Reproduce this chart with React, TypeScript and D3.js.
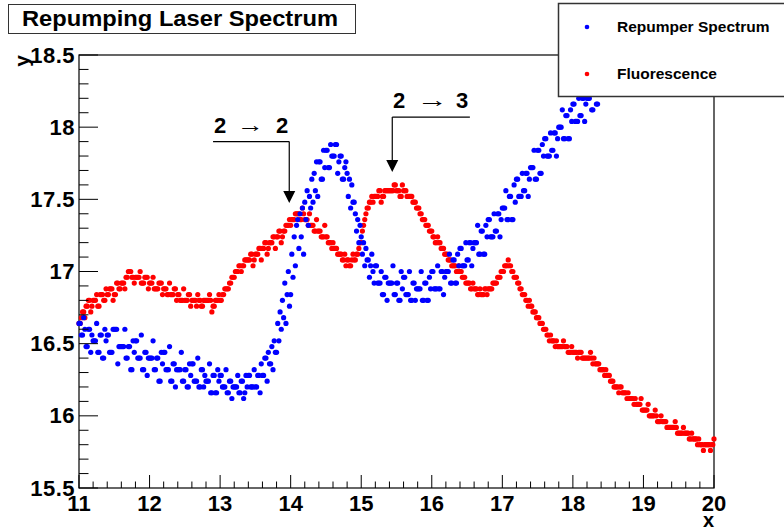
import React from "react";
import * as d3 from "d3";

// ---- data (sampled on a regular x grid starting at 11, 60 samples per unit) ----
const xStart = 11;
const samplesPerUnit = 60;

const repumperY: number[] = [
  16.64, 16.64, 16.56, 16.56, 16.68, 16.60,
  16.48, 16.48, 16.60, 16.60, 16.44, 16.56,
  16.52, 16.52, 16.52, 16.64, 16.44, 16.44,
  16.56, 16.56, 16.40, 16.40, 16.60, 16.52,
  16.56, 16.56, 16.44, 16.44, 16.44, 16.60,
  16.60, 16.60, 16.60, 16.36, 16.48, 16.48,
  16.48, 16.48, 16.48, 16.60, 16.40, 16.40,
  16.48, 16.48, 16.32, 16.32, 16.52, 16.44,
  16.52, 16.52, 16.40, 16.40, 16.40, 16.56,
  16.32, 16.32, 16.44, 16.44, 16.28, 16.40,
  16.40, 16.40, 16.40, 16.52, 16.32, 16.32,
  16.40, 16.40, 16.24, 16.24, 16.44, 16.36,
  16.44, 16.44, 16.32, 16.32, 16.32, 16.48,
  16.24, 16.24, 16.36, 16.36, 16.20, 16.32,
  16.32, 16.32, 16.32, 16.44, 16.24, 16.24,
  16.32, 16.32, 16.20, 16.20, 16.36, 16.28,
  16.36, 16.36, 16.24, 16.24, 16.24, 16.40,
  16.20, 16.20, 16.32, 16.32, 16.20, 16.28,
  16.24, 16.24, 16.24, 16.36, 16.16, 16.16,
  16.28, 16.28, 16.16, 16.16, 16.32, 16.24,
  16.28, 16.28, 16.20, 16.20, 16.20, 16.32,
  16.16, 16.16, 16.24, 16.24, 16.12, 16.20,
  16.20, 16.20, 16.20, 16.28, 16.16, 16.16,
  16.24, 16.24, 16.12, 16.16, 16.28, 16.20,
  16.28, 16.28, 16.20, 16.20, 16.20, 16.32,
  16.20, 16.20, 16.28, 16.28, 16.16, 16.36,
  16.28, 16.28, 16.40, 16.40, 16.24, 16.44,
  16.36, 16.36, 16.48, 16.32, 16.52, 16.44,
  16.44, 16.64, 16.52, 16.72, 16.60, 16.80,
  16.68, 16.92, 16.64, 16.84, 17.00, 16.76,
  16.84, 17.12, 16.96, 17.24, 17.04, 17.32,
  17.36, 17.16, 17.40, 17.24, 17.44, 17.12,
  17.48, 17.36, 17.56, 17.32, 17.52, 17.44,
  17.64, 17.48, 17.68, 17.56, 17.76, 17.52,
  17.76, 17.76, 17.64, 17.64, 17.84, 17.72,
  17.84, 17.84, 17.72, 17.72, 17.88, 17.80,
  17.80, 17.80, 17.88, 17.88, 17.68, 17.76,
  17.80, 17.80, 17.64, 17.64, 17.72, 17.76,
  17.68, 17.52, 17.64, 17.44, 17.60, 17.48,
  17.48, 17.40, 17.28, 17.36, 17.20, 17.32,
  17.24, 17.12, 17.20, 17.04, 17.16, 17.08,
  17.08, 16.96, 17.04, 17.12, 17.00, 16.92,
  17.04, 17.04, 16.92, 16.92, 16.92, 17.00,
  16.84, 16.84, 16.96, 16.96, 16.80, 16.92,
  16.92, 16.92, 16.92, 17.04, 16.84, 16.84,
  16.92, 16.92, 16.80, 16.80, 17.00, 16.88,
  16.96, 16.96, 16.84, 16.84, 16.84, 17.00,
  16.80, 16.80, 16.92, 16.92, 16.80, 16.88,
  16.88, 16.88, 16.88, 17.00, 16.80, 16.80,
  16.92, 16.92, 16.80, 16.80, 16.96, 16.88,
  17.00, 17.00, 16.88, 16.88, 16.88, 17.04,
  16.88, 16.88, 17.00, 17.00, 16.84, 16.96,
  17.00, 17.00, 17.00, 17.12, 16.92, 16.92,
  17.08, 17.08, 16.92, 16.92, 17.12, 17.04,
  17.16, 17.16, 17.04, 17.04, 17.04, 17.20,
  17.08, 17.08, 17.20, 17.20, 17.04, 17.16,
  17.20, 17.20, 17.20, 17.32, 17.12, 17.12,
  17.28, 17.28, 17.12, 17.12, 17.32, 17.24,
  17.36, 17.36, 17.24, 17.24, 17.24, 17.40,
  17.28, 17.28, 17.40, 17.40, 17.24, 17.36,
  17.44, 17.44, 17.44, 17.56, 17.36, 17.36,
  17.52, 17.52, 17.36, 17.36, 17.60, 17.48,
  17.64, 17.64, 17.52, 17.52, 17.52, 17.68,
  17.56, 17.56, 17.68, 17.68, 17.52, 17.64,
  17.72, 17.72, 17.72, 17.84, 17.64, 17.64,
  17.84, 17.84, 17.68, 17.68, 17.88, 17.80,
  17.92, 17.92, 17.80, 17.80, 17.80, 17.96,
  17.84, 17.84, 17.96, 17.96, 17.80, 17.92,
  18.00, 18.00, 18.00, 18.12, 17.92, 17.92,
  18.08, 18.08, 17.92, 17.92, 18.12, 18.04,
  18.16, 18.16, 18.04, 18.04, 18.04, 18.20,
  18.08, 18.08, 18.20, 18.20, 18.04, 18.16,
  18.20, 18.20, 18.20, 18.32, 18.12, 18.12,
  18.28, 18.28, 18.16, 18.16, 18.36, 18.24,
  18.40, 18.40, 18.28, 18.28, 18.28, 18.44,
  18.32, 18.32, 18.44, 18.44, 18.28, 18.40,
  18.44,
];

const fluorescenceY: number[] = [
  16.64, 16.64, 16.68, 16.72, 16.72, 16.68,
  16.76, 16.76, 16.80, 16.80, 16.72, 16.76,
  16.80, 16.80, 16.80, 16.84, 16.76, 16.76,
  16.84, 16.84, 16.84, 16.80, 16.80, 16.88,
  16.84, 16.84, 16.88, 16.88, 16.88, 16.80,
  16.84, 16.84, 16.92, 16.92, 16.88, 16.88,
  16.92, 16.92, 16.92, 16.88, 16.96, 16.96,
  17.00, 17.00, 17.00, 16.96, 16.96, 16.92,
  16.96, 16.96, 16.96, 16.96, 17.00, 16.92,
  16.92, 16.92, 16.96, 16.96, 16.96, 16.88,
  16.92, 16.92, 16.92, 16.96, 16.88, 16.88,
  16.88, 16.88, 16.92, 16.92, 16.92, 16.84,
  16.88, 16.88, 16.88, 16.84, 16.84, 16.92,
  16.84, 16.84, 16.84, 16.88, 16.88, 16.80,
  16.84, 16.84, 16.80, 16.80, 16.80, 16.88,
  16.80, 16.80, 16.80, 16.84, 16.84, 16.76,
  16.80, 16.80, 16.80, 16.80, 16.76, 16.84,
  16.80, 16.80, 16.76, 16.76, 16.80, 16.80,
  16.80, 16.80, 16.80, 16.84, 16.80, 16.72,
  16.76, 16.76, 16.80, 16.80, 16.80, 16.84,
  16.80, 16.80, 16.84, 16.84, 16.88, 16.88,
  16.88, 16.88, 16.92, 16.92, 16.96, 16.96,
  16.96, 17.00, 17.00, 17.00, 17.04, 17.04,
  17.00, 17.04, 17.04, 17.08, 17.08, 17.08,
  17.08, 17.08, 17.12, 17.12, 17.04, 17.08,
  17.12, 17.12, 17.12, 17.16, 17.16, 17.08,
  17.16, 17.16, 17.20, 17.20, 17.12, 17.16,
  17.20, 17.20, 17.20, 17.24, 17.24, 17.16,
  17.24, 17.24, 17.28, 17.28, 17.20, 17.24,
  17.28, 17.28, 17.32, 17.32, 17.32, 17.36,
  17.32, 17.36, 17.36, 17.36, 17.40, 17.40,
  17.40, 17.40, 17.36, 17.36, 17.44, 17.40,
  17.36, 17.36, 17.36, 17.32, 17.40, 17.32,
  17.32, 17.32, 17.28, 17.28, 17.36, 17.28,
  17.28, 17.28, 17.24, 17.24, 17.24, 17.32,
  17.24, 17.24, 17.20, 17.20, 17.20, 17.16,
  17.20, 17.16, 17.16, 17.16, 17.12, 17.12,
  17.12, 17.12, 17.08, 17.08, 17.12, 17.04,
  17.08, 17.08, 17.04, 17.04, 17.08, 17.12,
  17.08, 17.08, 17.12, 17.12, 17.16, 17.20,
  17.20, 17.28, 17.32, 17.36, 17.40, 17.44,
  17.44, 17.48, 17.48, 17.52, 17.48, 17.52,
  17.52, 17.52, 17.52, 17.56, 17.56, 17.48,
  17.52, 17.52, 17.56, 17.56, 17.56, 17.56,
  17.56, 17.56, 17.56, 17.56, 17.60, 17.60,
  17.56, 17.56, 17.56, 17.52, 17.52, 17.60,
  17.56, 17.56, 17.56, 17.52, 17.52, 17.52,
  17.52, 17.52, 17.48, 17.48, 17.48, 17.44,
  17.44, 17.44, 17.40, 17.40, 17.36, 17.36,
  17.36, 17.32, 17.32, 17.32, 17.28, 17.28,
  17.28, 17.24, 17.24, 17.20, 17.20, 17.24,
  17.20, 17.20, 17.16, 17.16, 17.16, 17.12,
  17.12, 17.12, 17.08, 17.08, 17.08, 17.04,
  17.04, 17.04, 17.04, 17.00, 17.00, 17.04,
  17.00, 17.00, 16.96, 16.96, 16.96, 16.92,
  16.92, 16.92, 16.92, 16.88, 16.88, 16.92,
  16.88, 16.88, 16.88, 16.84, 16.84, 16.88,
  16.84, 16.84, 16.84, 16.88, 16.88, 16.84,
  16.88, 16.88, 16.88, 16.88, 16.92, 16.92,
  16.92, 16.92, 16.96, 16.96, 16.96, 17.00,
  17.00, 17.00, 17.04, 17.04, 17.04, 17.08,
  17.04, 17.04, 17.00, 17.00, 16.96, 16.96,
  16.96, 16.92, 16.92, 16.88, 16.88, 16.84,
  16.84, 16.84, 16.80, 16.80, 16.76, 16.80,
  16.76, 16.76, 16.72, 16.72, 16.72, 16.68,
  16.68, 16.68, 16.64, 16.64, 16.64, 16.60,
  16.60, 16.60, 16.56, 16.56, 16.52, 16.56,
  16.52, 16.52, 16.52, 16.48, 16.52, 16.48,
  16.48, 16.48, 16.48, 16.48, 16.52, 16.48,
  16.48, 16.48, 16.44, 16.44, 16.44, 16.48,
  16.44, 16.44, 16.44, 16.44, 16.40, 16.44,
  16.44, 16.44, 16.40, 16.40, 16.40, 16.40,
  16.40, 16.40, 16.40, 16.44, 16.40, 16.36,
  16.40, 16.36, 16.36, 16.36, 16.36, 16.32,
  16.32, 16.32, 16.32, 16.28, 16.32, 16.28,
  16.28, 16.28, 16.24, 16.24, 16.24, 16.20,
  16.20, 16.20, 16.20, 16.16, 16.20, 16.20,
  16.16, 16.16, 16.16, 16.16, 16.12, 16.16,
  16.12, 16.12, 16.12, 16.12, 16.08, 16.12,
  16.08, 16.08, 16.08, 16.08, 16.12, 16.04,
  16.04, 16.04, 16.04, 16.04, 16.08, 16.00,
  16.00, 16.00, 16.00, 16.00, 16.04, 16.00,
  15.96, 15.96, 15.96, 16.00, 15.96, 15.96,
  15.96, 15.96, 15.92, 15.92, 15.92, 15.92,
  15.92, 15.92, 15.92, 15.96, 15.92, 15.88,
  15.88, 15.88, 15.88, 15.88, 15.92, 15.88,
  15.88, 15.88, 15.88, 15.84, 15.84, 15.88,
  15.84, 15.84, 15.84, 15.84, 15.80, 15.84,
  15.80, 15.80, 15.80, 15.76, 15.80, 15.80,
  15.80, 15.80, 15.80, 15.76, 15.80, 15.80,
  15.84,
];

const xTicks = [11, 12, 13, 14, 15, 16, 17, 18, 19, 20];
const yTicks = [15.5, 16, 16.5, 17, 17.5, 18, 18.5];
const yTickLabels = ["15.5", "16", "16.5", "17", "17.5", "18", "18.5"];

const seriesNames = ["Repumper Spectrum", "Fluorescence"];
const seriesColors = ["#0000ff", "#ff0000"];

// annotation texts: [left level, arrow, right level]
const annotationTexts = [
  ["2", "→", "2"],
  ["2", "→", "3"],
];

const W = 784;
const H = 531;
const M = { left: 79, right: 714, top: 55, bottom: 488 };

export default function App() {
  const x = d3.scaleLinear().domain([11, 20]).range([M.left, M.right]);
  const y = d3.scaleLinear().domain([15.5, 18.5]).range([M.bottom, M.top]);

  const toPts = (arr: number[]) =>
    arr
      .map((v, i) => ({ x: xStart + i / samplesPerUnit, y: v }))
      .filter((p) => p.x >= 11 && p.x <= 20.0001 && p.y >= 15.5 && p.y <= 18.5);

  const blue = toPts(repumperY);
  const red = toPts(fluorescenceY);

  const xMinor = d3.range(11, 20.0001, 0.2).filter((v) => Math.abs(v - Math.round(v)) > 1e-6);
  const yMinor = d3.range(15.5, 18.5001, 0.1).filter((v) => Math.abs(v * 2 - Math.round(v * 2)) > 1e-6);

  const font = "'Liberation Sans', Arial, Helvetica, sans-serif";
  const xMajLen = 13;
  const yMajLen = 19;

  // annotation arrows (data coordinates)
  const arrows = [
    { hx1: 12.9, hx2: 13.98, vx: 13.98, lineY: 17.9, tipY: 17.475 },
    { hx1: 15.44, hx2: 16.54, vx: 15.44, lineY: 18.07, tipY: 17.69 },
  ];
  const headH = 12;
  const headW = 6;

  const labelPos = [
    { x0: 214, ax: 237, ex: 276, yb: 133, aw: 27 },
    { x0: 393, ax: 417, ex: 456, yb: 108, aw: 31 },
  ];

  return (
    <svg
      width={W}
      height={H}
      style={{ position: "absolute", left: 0, top: 0, background: "#fff" }}
      fontFamily={font}
      fontWeight="bold"
    >
      <rect x={0} y={0} width={W} height={H} fill="#fff" />
      {/* frame */}
      <rect
        x={M.left}
        y={M.top}
        width={M.right - M.left}
        height={M.bottom - M.top}
        fill="none"
        stroke="#000"
        strokeWidth={1.2}
      />

      {/* data */}
      <g>
        {red.map((p, i) => (
          <circle key={"r" + i} cx={x(p.x)} cy={y(p.y)} r={2.6} fill={seriesColors[1]} />
        ))}
        {blue.map((p, i) => (
          <circle key={"b" + i} cx={x(p.x)} cy={y(p.y)} r={2.6} fill={seriesColors[0]} />
        ))}
      </g>

      {/* axes ticks */}
      <g stroke="#000" strokeWidth={1}>
        {xTicks.map((t) => (
          <line key={"xt" + t} x1={x(t)} x2={x(t)} y1={M.bottom} y2={M.bottom - xMajLen} />
        ))}
        {xMinor.map((t, i) => (
          <line key={"xm" + i} x1={x(t)} x2={x(t)} y1={M.bottom} y2={M.bottom - xMajLen / 2} />
        ))}
        {yTicks.map((t) => (
          <line key={"yt" + t} x1={M.left} x2={M.left + yMajLen} y1={y(t)} y2={y(t)} />
        ))}
        {yMinor.map((t, i) => (
          <line key={"ym" + i} x1={M.left} x2={M.left + yMajLen / 2} y1={y(t)} y2={y(t)} />
        ))}
      </g>
      <g fontSize={22} fill="#000">
        {xTicks.map((t) => (
          <text key={"xl" + t} x={x(t)} y={511} textAnchor="middle">
            {String(t)}
          </text>
        ))}
        {yTicks.map((t, i) => (
          <text key={"yl" + t} x={M.left - 4} y={y(t) + 7.5} textAnchor="end" letterSpacing={0.5}>
            {yTickLabels[i]}
          </text>
        ))}
        <text x={M.right} y={527} textAnchor="end" fontSize={20}>
          x
        </text>
        <text transform={`translate(29,${M.top}) rotate(-90)`} textAnchor="end" fontSize={21}>
          y
        </text>
      </g>

      {/* annotations */}
      <g>
        {annotationTexts.map((t, i) => {
          const p = labelPos[i];
          return (
            <g key={"lab" + i}>
              <text x={p.x0} y={p.yb} fontSize={22}>
                {t[0]}
              </text>
              <text
                x={p.ax}
                y={p.yb - 1}
                fontSize={22}
                fontWeight="normal"
                textLength={p.aw}
                lengthAdjust="spacingAndGlyphs"
              >
                {t[1]}
              </text>
              <text x={p.ex} y={p.yb} fontSize={22}>
                {t[2]}
              </text>
            </g>
          );
        })}
        {arrows.map((a, i) => {
          const tipPx = y(a.tipY);
          const vx = x(a.vx);
          return (
            <g key={"arr" + i}>
              <line x1={x(a.hx1)} x2={x(a.hx2)} y1={y(a.lineY)} y2={y(a.lineY)} stroke="#000" strokeWidth={1.2} />
              <line x1={vx} x2={vx} y1={y(a.lineY)} y2={tipPx - headH} stroke="#000" strokeWidth={1.2} />
              <path
                d={`M${vx - headW},${tipPx - headH} L${vx + headW},${tipPx - headH} L${vx},${tipPx} Z`}
                fill="#000"
              />
            </g>
          );
        })}
      </g>

      {/* title */}
      <rect x={8.5} y={4.5} width={347} height={29} fill="#fff" stroke="#333" strokeWidth={1} />
      <text x={22} y={26} fontSize={22} textLength={316} lengthAdjust="spacingAndGlyphs">
        Repumping Laser Spectrum
      </text>

      {/* legend */}
      <rect x={558.5} y={3.5} width={240} height={93} fill="#fff" stroke="#333" strokeWidth={1.5} />
      {seriesNames.map((n, i) => (
        <g key={n}>
          <circle cx={587} cy={27 + i * 47} r={2.3} fill={seriesColors[i]} />
          <text x={617} y={32 + i * 47} fontSize={15.5}>
            {n}
          </text>
        </g>
      ))}
    </svg>
  );
}
